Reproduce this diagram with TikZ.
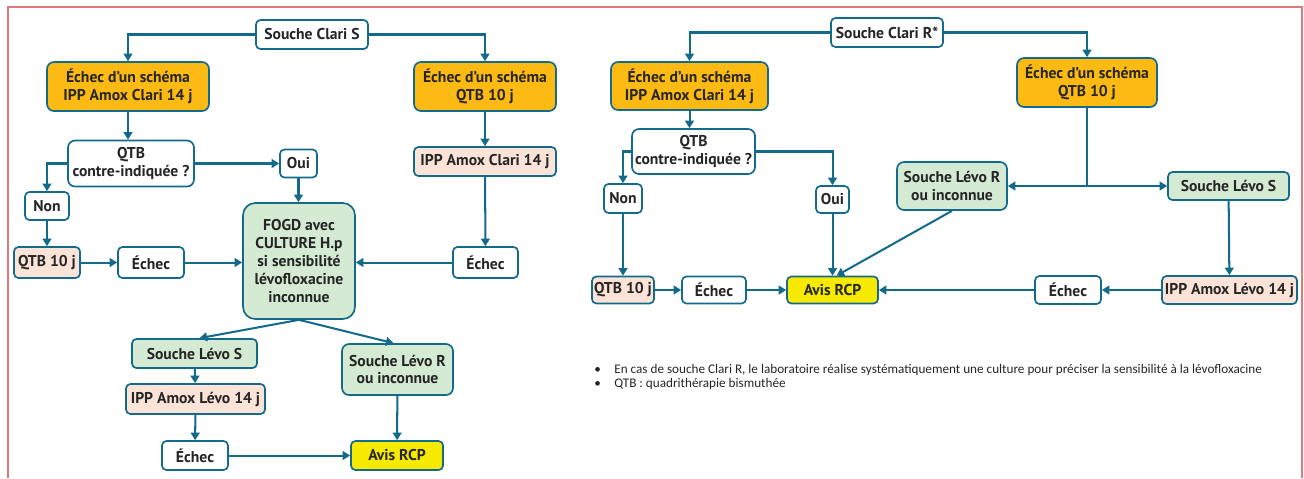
\documentclass[tikz,border=0pt]{standalone}
\usepackage{fontspec}
\usepackage{tikz}
\usetikzlibrary{arrows.meta}
\setmainfont{PT Sans}
\newfontfamily\noteFont{Carlito}
\newdimen\pxu
\pxu=0.02cm
\definecolor{lineBlue}{HTML}{136A8A}
\definecolor{orangeFill}{HTML}{FDBA12}
\definecolor{pinkFill}{HTML}{FCE3D8}
\definecolor{greenFill}{HTML}{D4EAD3}
\definecolor{avisYellow}{HTML}{F5EA00}
\definecolor{frameRed}{HTML}{E07A7A}
\definecolor{textGray}{HTML}{252525}
\newcommand{\boxFont}{\bfseries\fontsize{8.9}{10.2}\selectfont}
\tikzset{
  baseBox/.style={draw=lineBlue, line width=0.95pt, rounded corners=2.5pt, align=center,
    font=\boxFont, text=textGray, inner sep=1pt},
  whiteBox/.style={baseBox, fill=white},
  orangeBox/.style={baseBox, fill=orangeFill, rounded corners=4pt},
  pinkBox/.style={baseBox, fill=pinkFill},
  greenBox/.style={baseBox, fill=greenFill, rounded corners=4pt},
  avisBox/.style={baseBox, fill=avisYellow},
  wh/.style 2 args={minimum width=#1\pxu, minimum height=#2\pxu},
  flow/.style={draw=lineBlue, line width=1.15pt, -{Triangle[length=4.3pt,width=5pt]}},
  noteText/.style={anchor=west, inner sep=0pt, text=textGray,
    font=\noteFont\fontsize{7.5}{8}\selectfont}
}

\begin{document}
\begin{tikzpicture}[x=0.02cm, y=-0.02cm]
\useasboundingbox (0,0) rectangle (1304,478);
\draw[frameRed, line width=0.8pt] (8,478) -- (8,7) -- (1302,7) -- (1302,478);

% Souche Clari S
\node[whiteBox, wh={112}{29}] (clariS) at (312,34.5) {Souche Clari S};
\node[orangeBox, wh={162}{49}] (echecIAC) at (128,86.5) {Échec d’un schéma\\IPP Amox Clari 14 j};
\node[orangeBox, wh={142}{49}] (echecQTB) at (485,86.5) {Échec d’un schéma\\QTB 10 j};
\node[whiteBox, wh={126}{46}, rounded corners=4pt] (qtbCI) at (131,163.5) {QTB\\contre-indiquée ?};
\node[whiteBox, wh={37}{28}] (oui) at (298.5,163.5) {Oui};
\node[whiteBox, wh={44}{28}] (non) at (47,206) {Non};
\node[pinkBox, wh={66}{31}] (qtbDix) at (47,262.5) {QTB 10 j};
\node[whiteBox, wh={66}{31}] (echecA) at (151,262.5) {Échec};
\node[greenBox, wh={112}{116}, rounded corners=7pt] (fogd) at (299,261) {FOGD avec\\CULTURE H.p\\si sensibilité\\lévofloxacine\\inconnue};
\node[pinkBox, wh={142}{29}] (iacDroite) at (485,161.5) {IPP Amox Clari 14 j};
\node[whiteBox, wh={65}{31}] (echecB) at (485.5,262.5) {Échec};
\node[greenBox, wh={125}{29}, rounded corners=2.5pt] (levoS) at (194.5,353.5) {Souche Lévo S};
\node[greenBox, wh={111}{51}] (levoR) at (397.5,369.5) {Souche Lévo R\\ou inconnue};
\node[pinkBox, wh={139}{30}] (ialGauche) at (195.5,399) {IPP Amox Lévo 14 j};
\node[whiteBox, wh={66}{29}] (echecC) at (195,455.5) {Échec};
\node[avisBox, wh={92}{29}] (avis) at (397,455.5) {Avis RCP};

\draw[flow] (clariS.west) -| (echecIAC.north);
\draw[flow] (clariS.east) -| (echecQTB.north);
\draw[flow] (echecIAC.south) -- (echecIAC.south |- qtbCI.north);
\draw[flow] (qtbCI.east) -- (oui.west);
\draw[flow] (qtbCI.west) -| (non.north);
\draw[flow] (non) -- (qtbDix);
\draw[flow] (qtbDix) -- (echecA);
\draw[flow] (echecA.east) -- (echecA.east -| fogd.west);
\draw[flow] (oui) -- (oui |- fogd.north);
\draw[flow] (echecQTB) -- (iacDroite);
\draw[flow] (iacDroite) -- (echecB);
\draw[flow] (echecB.west) -- (echecB.west -| fogd.east);
\draw[flow] (fogd.south) -- ([xshift=5\pxu]levoS.north);
\draw[flow] (fogd.south) -- ([xshift=-4\pxu]levoR.north);
\draw[flow] (levoS) -- (ialGauche);
\draw[flow] (ialGauche) -- (echecC);
\draw[flow] (echecC) -- (avis);
\draw[flow] (levoR) -- (avis);

% Souche Clari R
\node[whiteBox, wh={112}{29}] (clariR) at (887,32.5) {Souche Clari R*};
\node[orangeBox, wh={157}{48}] (echecIAC2) at (689.5,86) {Échec d’un schéma\\IPP Amox Clari 14 j};
\node[orangeBox, wh={140}{49}] (echecQTB2) at (1087,82.5) {Échec d’un schéma\\QTB 10 j};
\node[whiteBox, wh={123}{45}, rounded corners=4pt] (qtbCI2) at (693.5,151.5) {QTB\\contre-indiquée ?};
\node[whiteBox, wh={38}{29}] (non2) at (623,198.5) {Non};
\node[whiteBox, wh={33}{27}] (oui2) at (832.5,199.5) {Oui};
\node[pinkBox, wh={62}{27}] (qtbDix2) at (623,290) {QTB 10 j};
\node[whiteBox, wh={64}{27}] (echecD) at (714,290) {Échec};
\node[avisBox, wh={91}{27}] (avis2) at (832.5,290) {Avis RCP};
\node[greenBox, wh={110}{48}] (levoR2) at (952,186) {Souche Lévo R\\ou inconnue};
\node[greenBox, wh={121}{28}, rounded corners=2.5pt] (levoS2) at (1228.5,186) {Souche Lévo S};
\node[pinkBox, wh={135}{28}] (ialDroite) at (1229.5,290) {IPP Amox Lévo 14 j};
\node[whiteBox, wh={66}{28}] (echecE) at (1068,290) {Échec};
\coordinate (fork) at (echecQTB2.south |- levoR2.east);

\draw[flow] (clariR.west) -| (echecIAC2.north);
\draw[flow] (clariR.east) -| (echecQTB2.north);
\draw[flow] (echecIAC2.south) -- (echecIAC2.south |- qtbCI2.north);
\draw[flow] (qtbCI2.west) -| (non2.north);
\draw[flow] (qtbCI2.east) -| (oui2.north);
\draw[flow] (non2) -- (qtbDix2);
\draw[flow] (qtbDix2) -- (echecD);
\draw[flow] (echecD) -- (avis2);
\draw[flow] (oui2) -- (avis2);
\draw[flow] (levoR2.south) -- ([xshift=4\pxu]avis2.north);
\draw[draw=lineBlue, line width=1.15pt] (echecQTB2.south) -- (fork);
\draw[flow] (fork) -- (levoR2.east);
\draw[flow] (fork) -- (levoS2.west);
\draw[flow] (levoS2) -- (ialDroite);
\draw[flow] (ialDroite) -- (echecE);
\draw[flow] (echecE) -- (avis2);

\node[noteText] (noteA) at (594,370) {\makebox[20\pxu][l]{\textbullet}En cas de souche Clari R, le laboratoire réalise systématiquement une culture pour préciser la sensibilité à la lévofloxacine};
\node[noteText] (noteB) at (594,384) {\makebox[20\pxu][l]{\textbullet}QTB : quadrithérapie bismuthée};
\end{tikzpicture}
\end{document}
